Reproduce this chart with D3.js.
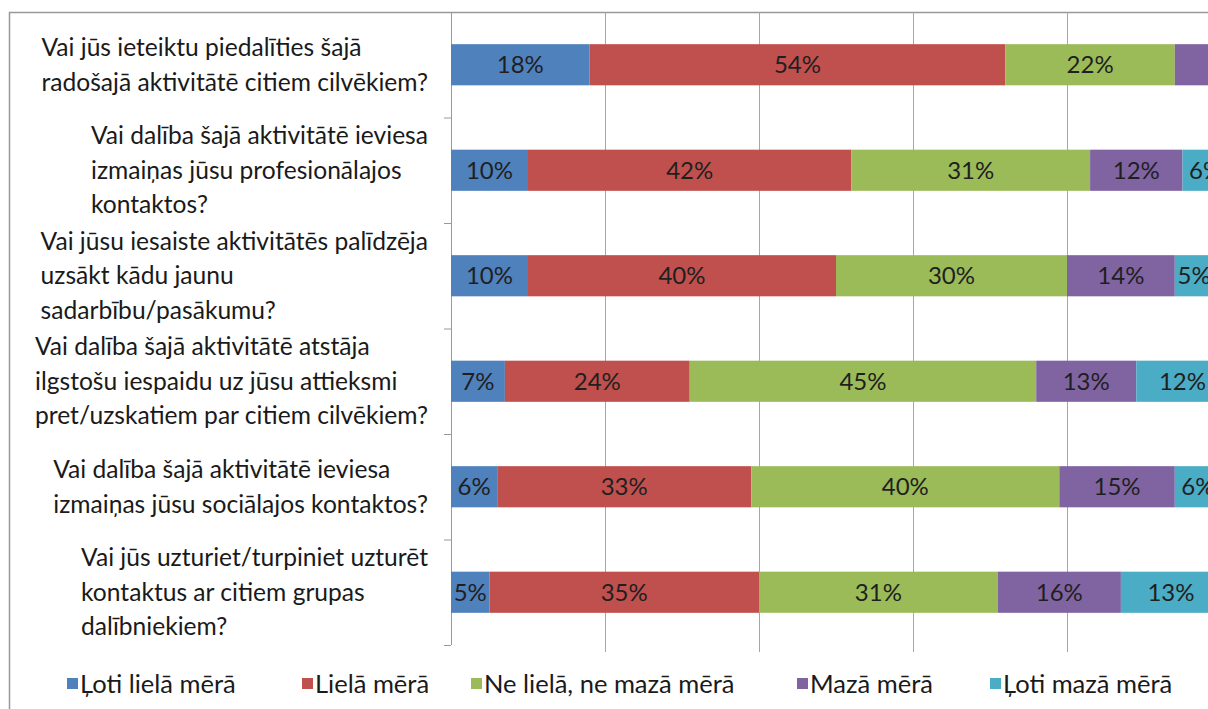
<!DOCTYPE html>
<html>
<head>
<meta charset="utf-8">
<script src="https://cdn.jsdelivr.net/npm/d3@7"></script>
<style>
  body { margin: 0; background: #fff; }
  svg { display: block; }
</style>
</head>
<body>
<div id="chart"></div>
<script>
// questions, each split into the lines shown on the axis
var questions = [
    ["Vai jūs ieteiktu piedalīties šajā", "radošajā aktivitātē citiem cilvēkiem?"],
    ["Vai dalība šajā aktivitātē ieviesa", "izmaiņas jūsu profesionālajos", "kontaktos?"],
    ["Vai jūsu iesaiste aktivitātēs palīdzēja", "uzsākt kādu jaunu", "sadarbību/pasākumu?"],
    ["Vai dalība šajā aktivitātē atstāja", "ilgstošu iespaidu uz jūsu attieksmi", "pret/uzskatiem par citiem cilvēkiem?"],
    ["Vai dalība šajā aktivitātē ieviesa", "izmaiņas jūsu sociālajos kontaktos?"],
    ["Vai jūs uzturiet/turpiniet uzturēt", "kontaktus ar citiem grupas", "dalībniekiem?"]
];
var seriesNames = ["Ļoti lielā mērā", "Lielā mērā", "Ne lielā, ne mazā mērā", "Mazā mērā", "Ļoti mazā mērā"];
var seriesColors = ["#4f81bd", "#c0504d", "#9bbb59", "#8064a2", "#4bacc6"];

var lotiLiela = [18, 10, 10, 7, 6, 5];
var liela     = [54, 42, 40, 24, 33, 35];
var neLiela   = [22, 31, 30, 45, 40, 31];
var maza      = [6, 12, 14, 13, 15, 16];
var lotiMaza  = [0, 6, 5, 12, 6, 13];
// the first row's "Mazā mērā" label lies outside the cropped picture
var hiddenLabels = ["0-3"];

var xTicks = [0, 20, 40, 60, 80, 100];

var W = 1208, H = 709;
var plot = {left: 451, right: 1221, top: 12, bottom: 645};

var svg = d3.select("#chart").append("svg")
    .attr("width", W).attr("height", H);

// outer frame (cut off on the right like the reference)
svg.append("path")
    .attr("d", "M9.5," + H + "V12.5H" + W)
    .attr("fill", "none").attr("stroke", "#999").attr("stroke-width", 1.5);

var x = d3.scaleLinear().domain([0, 100]).range([plot.left, plot.right]);
var y = d3.scaleBand()
    .domain(d3.range(questions.length))
    .range([plot.top, plot.bottom])
    .paddingInner(0.61).paddingOuter(0.305);

// vertical gridlines
svg.append("g")
    .selectAll("line")
    .data(xTicks.slice(1))
    .enter().append("line")
    .attr("x1", d => x(d) + 0.5).attr("x2", d => x(d) + 0.5)
    .attr("y1", plot.top).attr("y2", plot.bottom + 7)
    .attr("stroke", "#a6a6a6").attr("stroke-width", 1);

// category axis + tick marks between rows
var step = y.step();
var gAxis = svg.append("g");
gAxis.append("line")
    .attr("x1", plot.left + 0.5).attr("x2", plot.left + 0.5)
    .attr("y1", plot.top).attr("y2", plot.bottom)
    .attr("stroke", "#999");
gAxis.selectAll("line.tick")
    .data(d3.range(questions.length + 1))
    .enter().append("line")
    .attr("class", "tick")
    .attr("x1", plot.left - 7).attr("x2", plot.left)
    .attr("y1", d => plot.top + d * step + 0.5)
    .attr("y2", d => plot.top + d * step + 0.5)
    .attr("stroke", "#999");

// build stacked data
var rows = questions.map(function (q, i) {
    return {i: i, vals: [lotiLiela[i], liela[i], neLiela[i], maza[i], lotiMaza[i]]};
});
var segs = [];
rows.forEach(function (r) {
    var acc = 0;
    r.vals.forEach(function (v, k) {
        segs.push({row: r.i, k: k, x0: acc, x1: acc + v, v: v});
        acc += v;
    });
});
segs = segs.filter(d => d.v > 0);

svg.append("g")
    .selectAll("rect")
    .data(segs)
    .enter().append("rect")
    .attr("x", d => x(d.x0))
    .attr("y", d => y(d.row))
    .attr("width", d => x(d.x1) - x(d.x0))
    .attr("height", y.bandwidth())
    .attr("fill", d => seriesColors[d.k]);

svg.append("g")
    .selectAll("text")
    .data(segs.filter(d => hiddenLabels.indexOf(d.row + "-" + d.k) < 0))
    .enter().append("text")
    .attr("x", d => (x(d.x0) + x(d.x1)) / 2)
    .attr("y", d => y(d.row) + y.bandwidth() / 2)
    .attr("dy", "0.36em")
    .attr("text-anchor", "middle")
    .style("font-family", "Lato, 'Open Sans', sans-serif")
    .style("font-size", "24px")
    .style("fill", "#1f1f1f")
    .text(d => d.v + "%");

// question labels: lines left aligned, block right aligned to the axis
var lineH = 34.5;
var gLab = svg.append("g");
questions.forEach(function (lines, i) {
    var cy = y(i) + y.bandwidth() / 2;
    var t = gLab.append("text")
        .style("font-family", "Lato, 'Open Sans', sans-serif")
        .style("font-size", "24.6px")
        .style("fill", "#1a1a1a");
    lines.forEach(function (ln, j) {
        t.append("tspan")
            .attr("y", cy + (j - (lines.length - 1) / 2) * lineH)
            .attr("dy", "0.35em")
            .text(ln);
    });
    var maxW = 0;
    t.selectAll("tspan").each(function () {
        maxW = Math.max(maxW, this.getComputedTextLength());
    });
    t.selectAll("tspan").attr("x", 428 - maxW);
});

// legend
var legendX = [67, 302, 471, 797, 990];
var legend = svg.append("g")
    .selectAll("g")
    .data(seriesNames)
    .enter().append("g")
    .attr("transform", (d, i) => "translate(" + legendX[i] + ",678)");
legend.append("rect")
    .attr("width", 11).attr("height", 11)
    .attr("fill", (d, i) => seriesColors[i]);
legend.append("text")
    .attr("x", 13).attr("y", 6)
    .attr("dy", "0.36em")
    .style("font-family", "Lato, 'Open Sans', sans-serif")
    .style("font-size", "25.5px")
    .style("fill", "#1a1a1a")
    .text(d => d);
</script>
</body>
</html>
